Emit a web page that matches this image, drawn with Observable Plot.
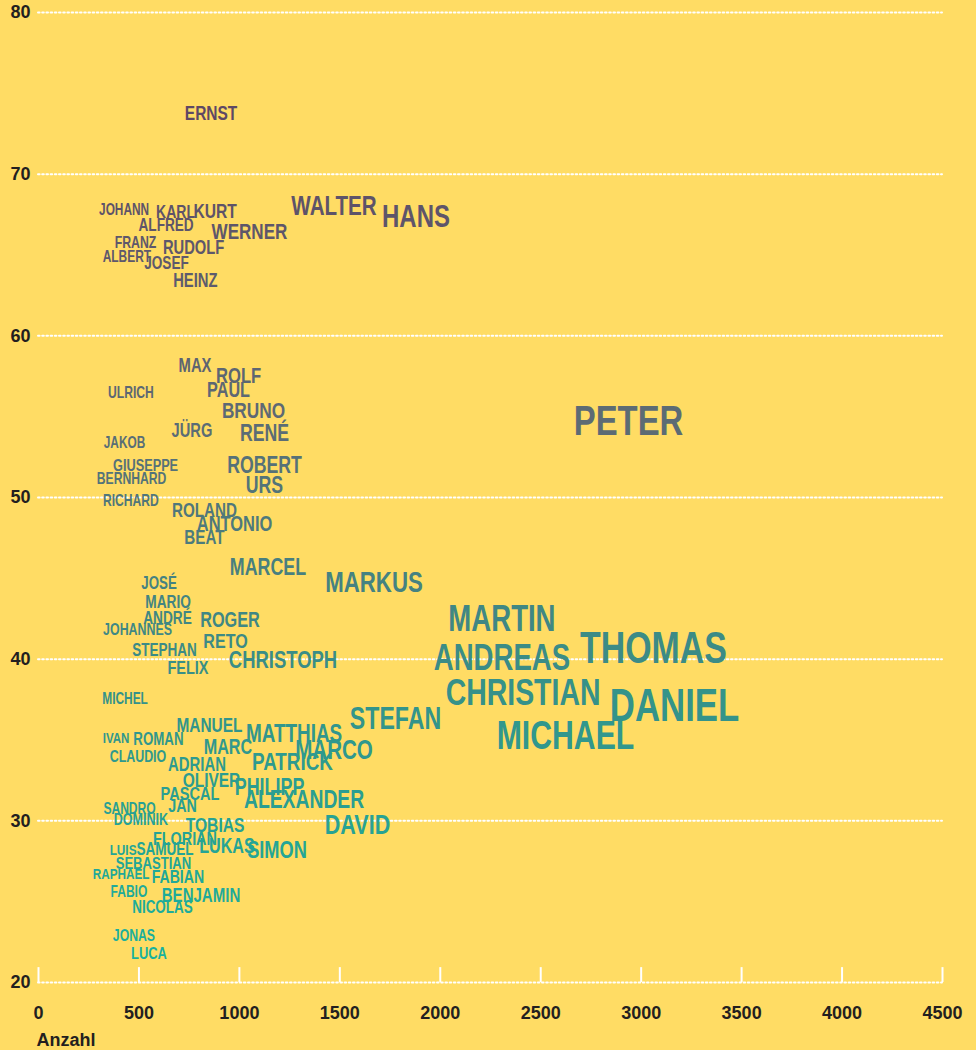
<!DOCTYPE html>
<html>
<head>
<meta charset="utf-8">
<script src="https://cdn.jsdelivr.net/npm/d3@7"></script>
<script src="https://cdn.jsdelivr.net/npm/@observablehq/plot@0.6"></script>
<style>
  html, body { margin: 0; padding: 0; background: #ffdc64; }
  #chart svg { display: block; }
</style>
</head>
<body>
<div id="chart"></div>
<script>
const names = ["ERNST","JOHANN","KARL","KURT","ALFRED","WERNER","WALTER","HANS","FRANZ","RUDOLF","ALBERT","JOSEF","HEINZ",
  "MAX","ROLF","PAUL","ULRICH","BRUNO","JÜRG","RENÉ","JAKOB","GIUSEPPE","BERNHARD","ROBERT","URS","RICHARD","ROLAND","ANTONIO","BEAT","PETER",
  "MARCEL","MARKUS","JOSÉ","MARIO","ANDRÉ","JOHANNES","ROGER","RETO","STEPHAN","CHRISTOPH","FELIX","MARTIN","ANDREAS","THOMAS","CHRISTIAN","DANIEL","MICHAEL","STEFAN",
  "MICHEL","MANUEL","MATTHIAS","IVAN","ROMAN","MARC","MARCO","CLAUDIO","ADRIAN","PATRICK","OLIVER","PHILIPP","PASCAL","ALEXANDER","SANDRO","JAN","DOMINIK","TOBIAS","DAVID",
  "FLORIAN","LUKAS","SIMON","LUIS","SAMUEL","SEBASTIAN","RAPHAEL","FABIAN","FABIO","BENJAMIN","NICOLAS","JONAS","LUCA"];
const counts = [859,426,682,879,635,1050,1471,1879,483,772,440,637,781,
  779,996,946,460,1070,764,1125,428,533,463,1125,1125,460,826,976,826,2937,
  1142,1670,600,645,642,493,953,931,627,1217,744,2307,2307,3061,2412,3166,2623,1777,
  431,851,1272,386,597,943,1471,495,789,1264,861,1150,754,1322,453,717,510,879,1588,
  729,938,1187,421,630,572,411,694,450,809,617,475,550];
const ages = [73.75,67.8,67.66,67.72,66.83,66.45,68.0,67.35,65.74,65.46,64.85,64.51,63.39,
  58.13,57.49,56.65,56.5,55.38,54.11,53.93,53.34,51.98,51.18,51.98,50.74,49.78,49.17,48.33,47.53,54.73,
  45.7,44.74,44.71,43.54,42.55,41.84,42.39,41.1,40.57,39.92,39.49,42.45,40.07,40.63,37.91,37.07,35.25,36.27,
  37.51,35.87,35.4,35.13,35.03,34.57,34.38,33.98,33.49,33.61,32.5,32.09,31.66,31.32,30.73,30.92,30.05,29.74,29.74,
  28.91,28.44,28.2,28.17,28.23,27.36,26.68,26.5,25.63,25.38,24.64,22.88,21.8];
const xTicks = [0,500,1000,1500,2000,2500,3000,3500,4000,4500];
const yTicks = [20,30,40,50,60,70,80];

const rows = names.map((name, i) => ({name, count: counts[i], age: ages[i]}));
const ink = "#231f20";

const chart = Plot.plot({
  width: 976,
  height: 1050,
  marginLeft: 38,
  marginRight: 34,
  marginTop: 12,
  marginBottom: 68,
  style: {background: "#ffdc64", fontFamily: "'Liberation Sans', Arial, sans-serif"},
  x: {domain: [0, 4500]},
  y: {domain: [20, 80]},
  color: {type: "linear", domain: [21, 38, 55, 74], range: ["#17b3a0", "#369189", "#5d6a74", "#5e4864"]},
  marks: [
    Plot.ruleY(yTicks, {y: d => d, stroke: "#ffffff", strokeWidth: 2, strokeDasharray: "1.6,2.6", strokeLinecap: "round"}),
    Plot.ruleX(xTicks, {x: d => d, y1: 20, y2: 20.92, stroke: "#ffffff", strokeWidth: 2}),
    Plot.axisY({ticks: yTicks, tickSize: 0, tickPadding: 8, fontSize: 18, fontWeight: "bold", fill: ink, label: null}),
    Plot.axisX({ticks: xTicks, tickFormat: d => String(d), tickSize: 0, tickPadding: 24, fontSize: 18, fontWeight: "bold", fill: ink, label: null}),
    Plot.text(["Anzahl"], {frameAnchor: "bottom-left", text: d => d, dx: -2, dy: 58, fontSize: 18, fontWeight: "bold", fill: ink, textAnchor: "start", lineAnchor: "middle"}),
    Plot.text(rows, {
      x: "count", y: "age", text: "name", fill: "age",
      fontSize: d => 10.9 + 0.011 * d.count,
      fontWeight: "bold",
      fontFamily: "'Liberation Sans Narrow', 'Liberation Sans', Arial, sans-serif",
      textAnchor: "middle", lineAnchor: "middle",
      className: "name-label"
    })
  ]
});
// condense the name labels horizontally (the reference uses a condensed face)
d3.select(chart).selectAll(".name-label text").each(function() {
  const t = this.getAttribute("transform") || "";
  this.setAttribute("transform", t + " scale(0.76,1)");
});
document.getElementById("chart").appendChild(chart);
</script>
</body>
</html>
